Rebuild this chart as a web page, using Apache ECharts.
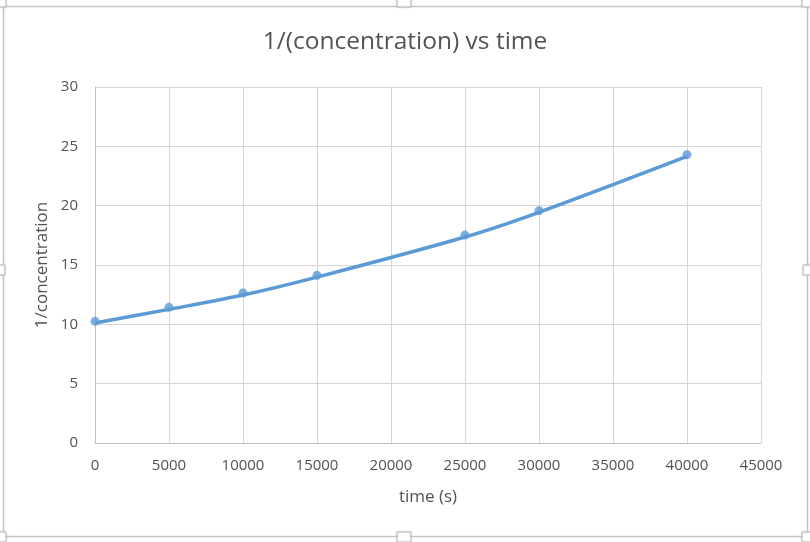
<!DOCTYPE html>
<html>
<head>
<meta charset="utf-8">
<script src="https://cdn.jsdelivr.net/npm/echarts@6/dist/echarts.min.js"></script>
<style>
html,body{margin:0;padding:0;background:#fff;}
#chart{width:810px;height:542px;}
</style>
</head>
<body>
<div id="chart"></div>
<script>
// Data
const timeValues = [0, 5000, 10000, 15000, 25000, 30000, 40000];
const pointValues = [10.25, 11.43, 12.64, 14.13, 17.52, 19.58, 24.3];
const curveValues = [10.11, 11.26, 12.47, 13.98, 17.36, 19.44, 24.15];
const titleText = '1/(concentration) vs time';
const xName = 'time (s)';
const yName = '1/concentration';

const FONT = '"Open Sans", sans-serif';
const TXT = '#535353';

const chart = echarts.init(document.getElementById('chart'), null, {renderer: 'canvas'});

const points = timeValues.map((t, i) => [t, pointValues[i]]);
const curve = timeValues.map((t, i) => [t, curveValues[i]]);

function handle(x, y) {
  return {
    type: 'rect',
    shape: {x: x, y: y, width: 14, height: 10},
    style: {fill: '#ffffff', stroke: '#bdbdbd', lineWidth: 1,
            shadowBlur: 2, shadowColor: 'rgba(0,0,0,0.15)'},
    z: 10
  };
}

chart.setOption({
  animation: false,
  backgroundColor: '#ffffff',
  title: {
    text: titleText,
    left: 'center',
    top: 25,
    textStyle: {fontFamily: FONT, fontSize: 24.5, fontWeight: 'normal', color: TXT}
  },
  grid: {left: 95, right: 49, top: 87, bottom: 99, containLabel: false},
  xAxis: {
    type: 'value',
    min: 0, max: 45000, interval: 5000,
    name: xName,
    nameLocation: 'middle',
    nameGap: 46,
    nameMoveOverlap: false,
    nameTextStyle: {fontFamily: FONT, fontSize: 17, color: TXT},
    axisLine: {show: true, lineStyle: {color: '#bfbfbf', width: 1}},
    axisTick: {show: false},
    axisLabel: {fontFamily: FONT, fontSize: 15, color: TXT, margin: 15,
                formatter: function (v) { return String(v); }},
    splitLine: {show: true, lineStyle: {color: '#d6d6d6', width: 1}}
  },
  yAxis: {
    type: 'value',
    min: 0, max: 30, interval: 5,
    name: yName,
    nameLocation: 'middle',
    nameGap: 44,
    nameMoveOverlap: false,
    nameRotate: 90,
    nameTextStyle: {fontFamily: FONT, fontSize: 17, color: TXT},
    axisLine: {show: true, lineStyle: {color: '#bfbfbf', width: 1}},
    axisTick: {show: false},
    axisLabel: {fontFamily: FONT, fontSize: 15, color: TXT, margin: 17},
    splitLine: {show: true, lineStyle: {color: '#d6d6d6', width: 1}}
  },
  series: [
    {
      type: 'line',
      data: curve,
      smooth: 0.3,
      showSymbol: false,
      symbol: 'none',
      lineStyle: {color: '#5b9bd5', width: 3.5},
      z: 2
    },
    {
      type: 'scatter',
      data: points,
      symbol: 'circle',
      symbolSize: 9,
      itemStyle: {color: '#5b9bd5'},
      z: 3
    }
  ],
  graphic: [
    {
      type: 'rect',
      shape: {x: 3.5, y: 6.5, width: 804, height: 530},
      style: {fill: 'none', stroke: '#c4c4c4', lineWidth: 1.5},
      silent: true,
      z: 5
    },
    handle(397, -3),
    handle(803, 265),
    handle(-9, 265),
    handle(397, 532),
    handle(802, 532),
    handle(-8, 532),
    handle(802, -3),
    handle(-8, -3)
  ]
});
</script>
</body>
</html>
